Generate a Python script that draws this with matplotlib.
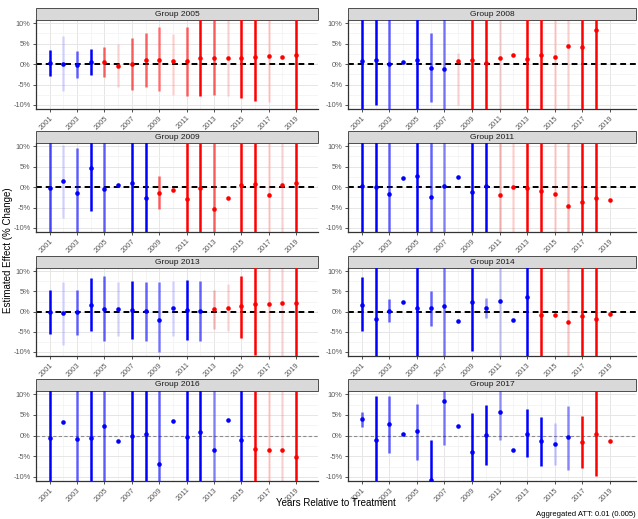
import numpy as np
import matplotlib.pyplot as plt
from matplotlib.patches import Rectangle
from matplotlib.ticker import FuncFormatter, MultipleLocator

nan = np.nan
years = list(range(2001, 2020))
groups = [2005, 2008, 2009, 2011, 2013, 2014, 2016, 2017]

# point estimates (%), confidence limits (%), line opacity per year
est_2005 = [0.25, 0.0, -0.1, 0.5, 0.5, -0.4, 0.0, 1.0, 1.1, 0.7, 0.8, 1.4, 1.4, 1.6, 1.4, 1.8, 2.0, 1.7, 2.3]
lo_2005 = [-2.9, -6.7, -3.5, -2.7, -3.2, -5.6, -6.3, -5.7, -6.7, -7.5, -7.7, -7.9, -7.5, -7.9, -8.3, -9.1, -9.4, nan, -14]
hi_2005 = [3.5, 7.0, 3.2, 3.8, 4.2, 5.0, 6.4, 7.7, 9.0, 7.4, 9.2, 13, 12, 12, 14, 14, 13, nan, 15]
al_2005 = [1, .15, .6, 1, .6, .15, .6, .6, .5, .15, .6, 1, .6, .15, 1, 1, .15, .15, 1]

est_2008 = [0.65, 1.0, 0.0, 0.4, 1.05, -0.9, -1.1, 0.8, 1.1, 0.3, 1.6, 2.3, 1.3, 2.3, 1.8, 4.5, 4.1, 8.4, nan]
lo_2008 = [-14, -10, -14, nan, -14, -9.2, -14, -9.9, -14, -14, -14, nan, -14, -14, -14, -14, -14, -14, nan]
hi_2008 = [14, 14, 14, nan, 14, 7.5, 14, 2.6, 14, 14, 14, nan, 14, 14, 14, 14, 14, 14, nan]
al_2008 = [1, 1, .6, 1, 1, .6, .5, .15, 1, 1, .15, 1, 1, 1, .15, .15, 1, 1, 1]

est_2009 = [-0.15, 1.5, -1.4, 4.6, -0.5, 0.4, 1.1, -2.6, -1.4, -0.6, -2.9, -0.1, -5.3, -2.7, 0.5, 0.8, -2.0, 0.4, 1.0]
lo_2009 = [-14, -7.6, -14, -5.8, -14, nan, -14, -14, -5.3, nan, -14, -14, -14, nan, -14, -14, -14, -14, -14]
hi_2009 = [14, 10.4, 9.6, 14, 14, nan, 14, 14, 2.6, nan, 14, 14, 14, nan, 14, 14, 14, 14, 14]
al_2009 = [.7, .15, .6, 1, .6, 1, 1, 1, .6, 1, 1, 1, .6, 1, 1, 1, .15, .15, 1]

est_2011 = [0.25, 0.1, -1.6, 2.2, 2.6, -2.5, 0.25, 2.5, -1.25, 0.25, -1.9, 0.0, -0.25, -0.9, -1.7, -4.6, -3.6, -2.7, -3.1]
lo_2011 = [-14, -14, -14, nan, -14, -14, -14, nan, -14, -14, -14, -14, -14, -14, -14, -14, -14, -14, nan]
hi_2011 = [14, 14, 14, nan, 14, 14, 14, nan, 14, 14, 14, 14, 14, 14, 14, 14, 14, 14, nan]
al_2011 = [1, 1, .6, 1, 1, .6, .45, 1, 1, 1, .25, .15, 1, 1, .15, .25, 1, 1, 1]

est_2013 = [-0.1, -0.4, -0.15, 1.7, 0.7, 0.7, 0.3, 0.1, -2.0, 1.0, 0.3, 0.15, 0.65, 0.9, 1.3, 1.9, 1.9, 2.2, 2.1]
lo_2013 = [-5.6, -8.2, -5.9, -4.8, -7.3, -6.0, -6.7, -7.3, -10, -6.0, -7.0, -7.4, -4.2, -4.7, -6.5, -10.7, -14, -14, -14]
hi_2013 = [5.4, 7.4, 5.4, 8.2, 8.9, 7.4, 7.5, 7.3, 7.3, 7.7, 7.8, 7.5, 5.4, 6.9, 8.9, 14, 14, 14, 14]
al_2013 = [1, .15, .6, 1, .6, .15, 1, .6, .5, .15, 1, .6, .25, .15, 1, 1, .15, .15, 1]

est_2014 = [1.7, -1.8, 0.25, 2.3, 1.0, 0.8, 1.3, -2.3, 2.5, 1.0, 2.6, -2.1, 3.6, -0.8, -0.8, -2.7, -1.2, -1.8, -0.5]
lo_2014 = [-4.8, -14, -2.7, nan, -14, -3.5, -14, nan, -9.7, -1.5, -14, nan, -14, -14, nan, -14, -14, -14, nan]
hi_2014 = [8.5, 14, 3.1, nan, 14, 5.1, 14, nan, 14, 3.4, 14, nan, 14, 14, nan, 14, 14, 14, nan]
al_2014 = [1, 1, .6, 1, 1, .6, .5, 1, 1, .4, .2, 1, 1, 1, 1, .2, 1, 1, 1]

est_2016 = [-0.6, 3.4, -0.8, -0.5, 2.3, -1.3, -0.1, 0.4, -6.9, 3.5, -0.25, 0.75, -3.4, 3.8, -1.1, -3.3, -3.4, -3.5, -5.2]
lo_2016 = [-14, nan, -14, -14, -14, nan, -14, -14, -14, nan, -14, -14, -14, nan, -14, -14, -14, -14, -14]
hi_2016 = [14, nan, 14, 14, 14, nan, 14, 14, 14, nan, 14, 14, 14, nan, 14, 14, 14, 14, 14]
al_2016 = [1, 1, .6, 1, .6, 1, 1, 1, .6, 1, 1, 1, .45, 1, 1, 1, .15, .15, 1]

est_2017 = [4.0, -1.1, 2.7, 0.4, 1.1, -10.7, 8.3, 2.3, -3.9, 0.15, 5.6, -3.5, 0.5, -1.4, -2.0, -0.4, -1.6, 0.4, -1.2]
lo_2017 = [2.0, -14, -4.2, nan, -5.8, -14, -2.2, nan, -14, -7.1, -1.0, nan, -5.1, -7.3, -7.1, -8.3, -7.9, -9.8, nan]
hi_2017 = [5.8, 9.5, 9.5, nan, 7.6, -1.1, 14, nan, 5.4, 7.3, 14, nan, 6.4, 4.4, 3.1, 7.2, 4.8, 14, nan]
al_2017 = [.6, 1, .6, 1, .6, 1, .5, 1, 1, 1, .4, .2, 1, 1, .2, .45, 1, 1, 1]

data = {
    2005: (est_2005, lo_2005, hi_2005, al_2005),
    2008: (est_2008, lo_2008, hi_2008, al_2008),
    2009: (est_2009, lo_2009, hi_2009, al_2009),
    2011: (est_2011, lo_2011, hi_2011, al_2011),
    2013: (est_2013, lo_2013, hi_2013, al_2013),
    2014: (est_2014, lo_2014, hi_2014, al_2014),
    2016: (est_2016, lo_2016, hi_2016, al_2016),
    2017: (est_2017, lo_2017, hi_2017, al_2017),
}

plt.rcParams["font.family"] = ["Liberation Sans", "DejaVu Sans"]

W, H = 638, 519
fig = plt.figure(figsize=(W / 100, H / 100), dpi=100)

col_x = [(36, 318), (348, 636)]
row_y = [(20, 109), (143, 232), (268, 356), (391, 481)]
strip_h = 12

for i, g in enumerate(groups):
    r, c = divmod(i, 2)
    x0, x1 = col_x[c]
    y0, y1 = row_y[r]
    ax = fig.add_axes([x0 / W, 1 - y1 / H, (x1 - x0) / W, (y1 - y0) / H])
    est, lo, hi, al = data[g]

    ax.set_xlim(2000, 2020.6 if c == 0 else 2020.9)
    ax.set_ylim(-11, 10.8)
    ax.set_xticks(years[::2])
    ax.set_xticks(years[1::2], minor=True)
    ax.yaxis.set_major_locator(MultipleLocator(5))
    ax.yaxis.set_minor_locator(MultipleLocator(2.5))
    ax.grid(which="major", color="#e6e6e6", lw=0.7)
    ax.grid(which="minor", color="#f2f2f2", lw=0.5)
    ax.set_axisbelow(True)
    ax.yaxis.set_major_formatter(FuncFormatter(lambda v, p: f"{v:.0f}%"))
    ax.tick_params(which="major", labelsize=5.3, length=2.5, width=0.6,
                   color="0.2", labelcolor="0.35", pad=1.5)
    ax.tick_params(which="minor", length=0)
    plt.setp(ax.get_xticklabels(), rotation=45, ha="right", rotation_mode="anchor")
    for s in ["top", "right"]:
        ax.spines[s].set_visible(False)
    for s in ["left", "bottom"]:
        ax.spines[s].set_color("0.2")
        ax.spines[s].set_linewidth(0.9)

    zero_col = "0.55" if r == 3 else "black"
    ax.axhline(0, color=zero_col, ls=(0, (3, 2)), lw=1.4 if r < 3 else 0.8, zorder=2)

    for yr, e, l, h, a in zip(years, est, lo, hi, al):
        if np.isnan(e):
            continue
        col = "#0000ff" if yr < g else "#ff0000"
        if not np.isnan(l):
            ax.vlines(yr, l, h, color=col, alpha=a, lw=1.8, zorder=3)
        ax.plot(yr, e, "o", color=col, ms=3.3, mew=0, zorder=4)

    ax.add_patch(Rectangle((0, 1), 1, strip_h / (y1 - y0), transform=ax.transAxes,
                           facecolor="#d9d9d9", edgecolor="0.3", lw=0.7, clip_on=False))
    ax.text(0.5, 1 + strip_h / 2 / (y1 - y0), f"Group {g}", transform=ax.transAxes,
            ha="center", va="center", fontsize=6, color="0.1")

fig.text(336 / W, 1 - 503 / H, "Years Relative to Treatment", ha="center", va="center",
         fontsize=7)
fig.text(8 / W, 1 - 250 / H, "Estimated Effect (% Change)", ha="center", va="center",
         rotation=90, fontsize=7)
fig.text(636 / W, 1 - 514 / H, "Aggregated ATT: 0.01 (0.005)", ha="right", va="center",
         fontsize=5.5)

fig.savefig("out.png", dpi=100)
